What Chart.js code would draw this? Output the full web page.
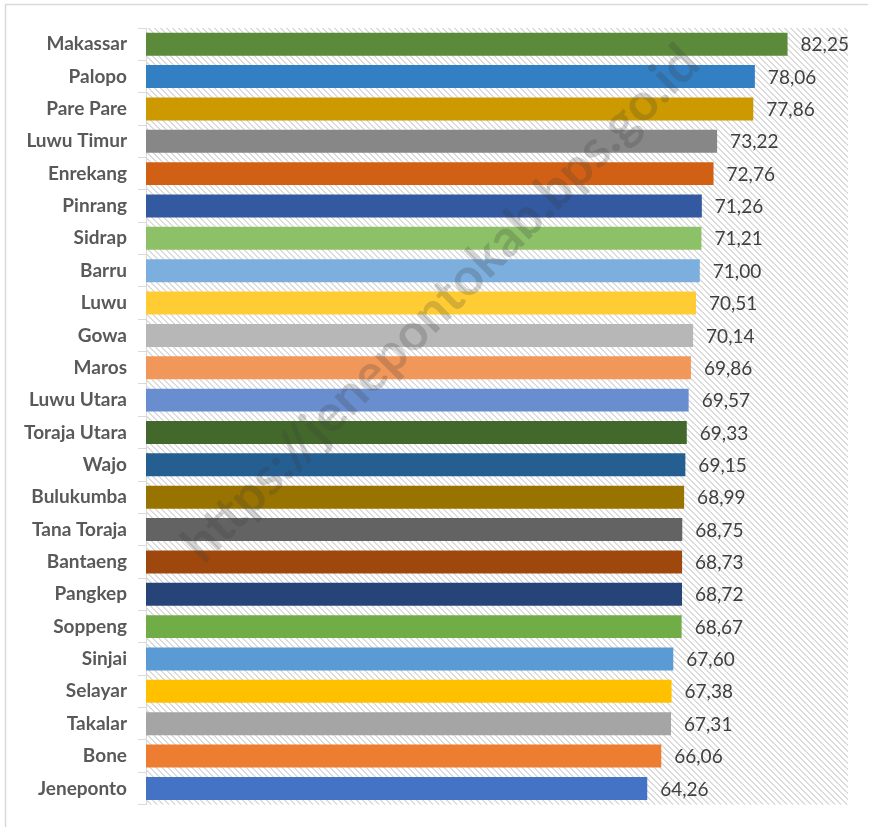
<!DOCTYPE html>
<html>
<head>
<meta charset="utf-8">
<script src="https://cdn.jsdelivr.net/npm/chart.js@4/dist/chart.umd.min.js"></script>
<style>
  body { margin: 0; background: #fff; }
  #chart { display: block; }
</style>
</head>
<body>
<canvas id="chart" width="872" height="827"></canvas>
<script>
'use strict';

let canvasElem = document.getElementById('chart');

// regencies, top to bottom
let regions = [
  'Makassar', 'Palopo', 'Pare Pare', 'Luwu Timur', 'Enrekang', 'Pinrang',
  'Sidrap', 'Barru', 'Luwu', 'Gowa', 'Maros', 'Luwu Utara',
  'Toraja Utara', 'Wajo', 'Bulukumba', 'Tana Toraja', 'Bantaeng', 'Pangkep',
  'Soppeng', 'Sinjai', 'Selayar', 'Takalar', 'Bone', 'Jeneponto'
];
let values = [
  82.25, 78.06, 77.86, 73.22, 72.76, 71.26,
  71.21, 71.00, 70.51, 70.14, 69.86, 69.57,
  69.33, 69.15, 68.99, 68.75, 68.73, 68.72,
  68.67, 67.60, 67.38, 67.31, 66.06, 64.26
];
let barColors = [
  '#5a8a3a', '#327fc4', '#cc9a00', '#878787', '#d26014', '#3359a0',
  '#8cc168', '#7cafdd', '#ffcd33', '#b7b7b7', '#f1975a', '#698ed0',
  '#43682b', '#255e91', '#997300', '#636363', '#9e480e', '#264478',
  '#70ad47', '#5b9bd5', '#ffc000', '#a5a5a5', '#ed7d31', '#4472c4'
];
let axisMin = 0;
let axisMax = 90;
let watermark = 'https://jenepontokab.bps.go.id';

// small diagonal hatch used behind the bars
function makeHatch() {
  let c = document.createElement('canvas');
  c.width = 6;
  c.height = 6;
  let g = c.getContext('2d');
  g.fillStyle = '#ffffff';
  g.fillRect(0, 0, 6, 6);
  g.fillStyle = '#dcdcdc';
  for (let y = 0; y < 6; y++) {
    g.fillRect(y % 6, y, 1, 1);
    g.fillRect((y + 1) % 6, y, 1, 1);
  }
  return g.createPattern(c, 'repeat');
}

let backdrop = {
  id: 'backdrop',
  beforeDraw(chart) {
    let ctx = chart.ctx;
    let a = chart.chartArea;
    ctx.save();
    ctx.fillStyle = '#ffffff';
    ctx.fillRect(0, 0, chart.width, chart.height);
    ctx.fillStyle = makeHatch();
    ctx.fillRect(a.left, a.top, a.right - a.left, a.bottom - a.top);
    // outer frame
    ctx.strokeStyle = '#d9d9d9';
    ctx.lineWidth = 1.5;
    ctx.beginPath();
    ctx.moveTo(5.5, chart.height);
    ctx.lineTo(5.5, 4.5);
    ctx.lineTo(868, 4.5);
    ctx.stroke();
    ctx.restore();
  }
};

let valueLabels = {
  id: 'valueLabels',
  afterDatasetsDraw(chart) {
    let ctx = chart.ctx;
    let meta = chart.getDatasetMeta(0);
    ctx.save();
    ctx.font = '19px Lato';
    ctx.fillStyle = '#404040';
    ctx.textBaseline = 'middle';
    ctx.textAlign = 'left';
    meta.data.forEach(function (bar, i) {
      let txt = values[i].toFixed(2).replace('.', ',');
      ctx.fillText(txt, bar.x + 13, bar.y + 1);
    });
    // watermark across the plot
    ctx.font = 'bold 52px Lato';
    ctx.fillStyle = 'rgba(60, 60, 60, 0.22)';
    ctx.textAlign = 'center';
    ctx.translate(441, 304);
    ctx.rotate(-Math.PI / 4);
    ctx.fillText(watermark, 0, 0);
    ctx.restore();
  }
};

let config = {
  type: 'bar',
  data: {
    labels: regions,
    datasets: [{
      data: values,
      backgroundColor: barColors,
      borderWidth: 0,
      barPercentage: 0.71,
      categoryPercentage: 1
    }]
  },
  options: {
    indexAxis: 'y',
    responsive: false,
    animation: false,
    devicePixelRatio: 1,
    layout: {
      padding: { top: 28, bottom: 21, left: 0, right: 24 }
    },
    plugins: {
      legend: { display: false },
      tooltip: { enabled: false }
    },
    scales: {
      x: {
        display: false,
        min: axisMin,
        max: axisMax
      },
      y: {
        afterFit(scale) { scale.width = 146; },
        border: { color: '#d9d9d9', width: 1 },
        grid: {
          offset: true,
          drawOnChartArea: false,
          drawTicks: true,
          tickLength: 8,
          color: '#d9d9d9'
        },
        ticks: {
          padding: 11,
          color: '#595959',
          font: { family: 'Lato', size: 19, weight: 'bold' }
        }
      }
    }
  },
  plugins: [backdrop, valueLabels]
};

new Chart(canvasElem, config);
</script>
</body>
</html>
